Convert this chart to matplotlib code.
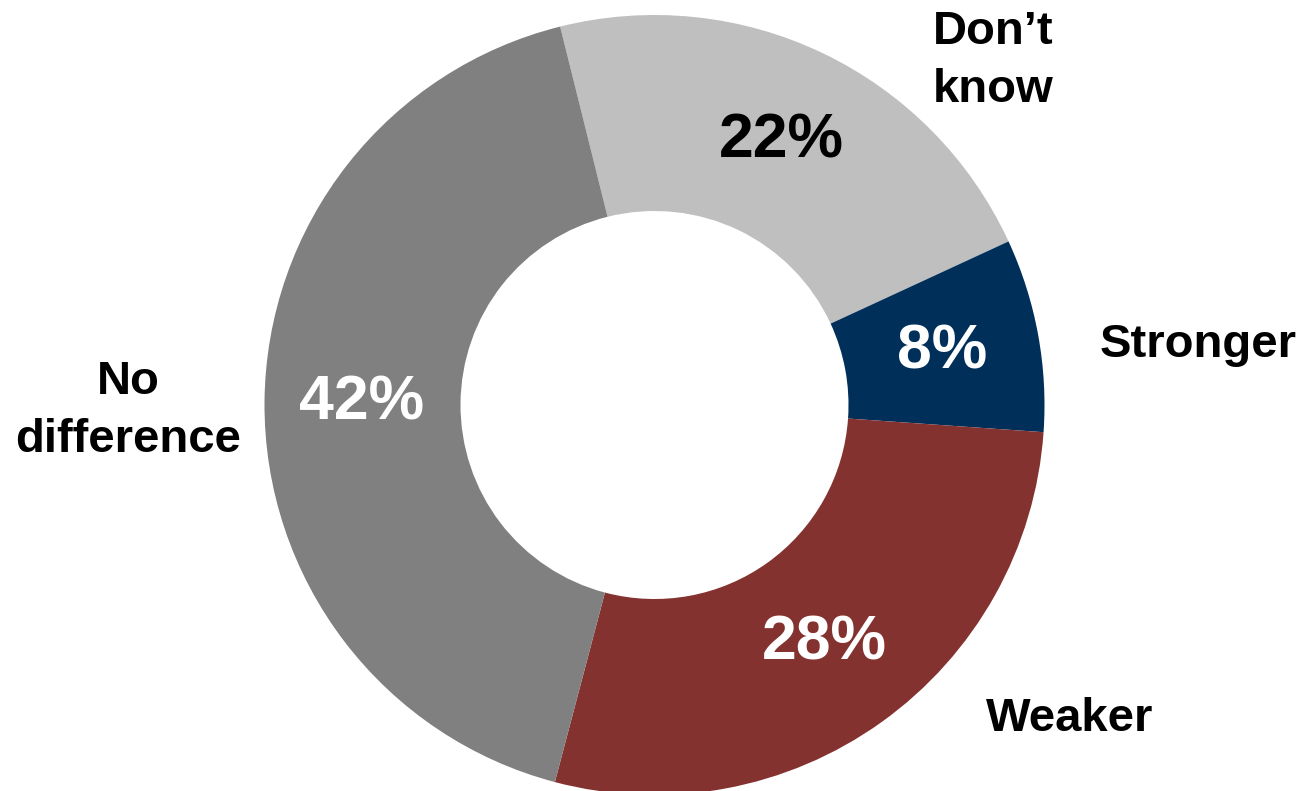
import matplotlib
matplotlib.use("Agg")
import matplotlib.pyplot as plt

# survey answers, clockwise from the top
categories = ["Don\u2019t\nknow", "Stronger", "Weaker", "No\ndifference"]
shares     = [22, 8, 28, 42]
colors     = ["#BFBFBF", "#00305A", "#843230", "#808080"]
pct_colors = ["black", "white", "white", "white"]

# outside label spots, in pixel-like axes units (y up)
label_pos = [(993, 730), (1198, 446), (1070, 72), (128, 380)]

plt.rcParams["font.family"] = ["Liberation Sans", "DejaVu Sans"]

fig = plt.figure(figsize=(13.03, 7.91), dpi=100)
ax = fig.add_axes([0, 0, 1, 1])

wedges, _, autotexts = ax.pie(
    shares, colors=colors, startangle=104, counterclock=False,
    center=(654.5, 386), radius=390, frame=True,
    autopct=lambda p: f"{p:.0f}%", pctdistance=0.75,
    wedgeprops=dict(width=196, linewidth=0),
)
ax.set_xlim(0, 1303)
ax.set_ylim(0, 791)
ax.set_aspect("equal")
ax.axis("off")

for t, c in zip(autotexts, pct_colors):
    t.set_color(c)
    t.set_fontsize(45)
    t.set_fontweight("bold")

for name, (x, y) in zip(categories, label_pos):
    ax.text(x, y, name, ha="center", va="center", fontsize=34,
            fontweight="bold", linespacing=1.42)

fig.savefig("out.png", dpi=100)
